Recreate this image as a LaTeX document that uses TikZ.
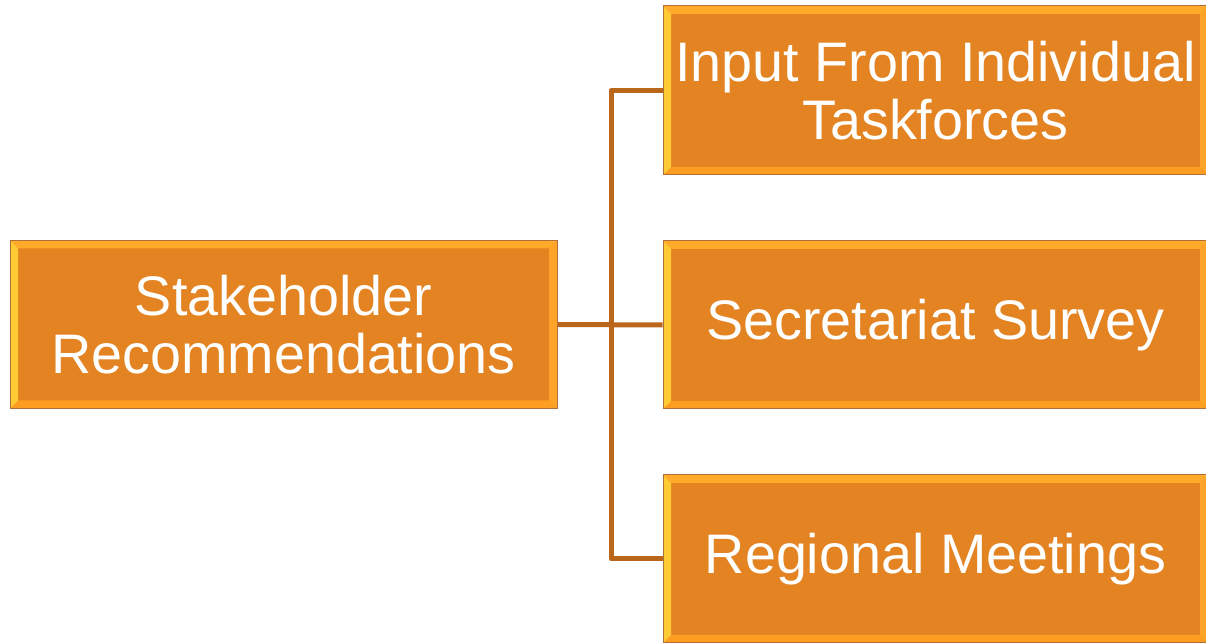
\documentclass[tikz,border=0pt]{standalone}
\usepackage{fontspec}
\setmainfont{Liberation Sans}
\usetikzlibrary{calc}
\definecolor{boxfill}{RGB}{227,131,34}
\definecolor{bevtop}{RGB}{255,170,42}
\definecolor{bevleft}{RGB}{255,203,52}
\definecolor{bevbottom}{RGB}{253,158,34}
\definecolor{bevright}{RGB}{255,164,40}
\definecolor{boxedge}{RGB}{176,112,60}
\definecolor{linkcol}{RGB}{187,103,27}
\tikzset{
  x=1pt,y=1pt,
  bevelbox/.style={
    fill=boxfill, draw=boxedge, line width=1pt, inner sep=0pt,
    text=white, align=center,
    font=\fontsize{55.7}{57.5}\selectfont,
    path picture={
      \coordinate (pnw) at (path picture bounding box.north west);
      \coordinate (pne) at (path picture bounding box.north east);
      \coordinate (psw) at (path picture bounding box.south west);
      \coordinate (pse) at (path picture bounding box.south east);
      \fill[bevtop] (pnw) -- (pne) -- ($(pne)+(-8,-8)$) -- ($(pnw)+(8,-8)$) -- cycle;
      \fill[bevbottom] (psw) -- (pse) -- ($(pse)+(-8,8)$) -- ($(psw)+(8,8)$) -- cycle;
      \fill[bevleft] (pnw) -- (psw) -- ($(psw)+(8,8)$) -- ($(pnw)+(8,-8)$) -- cycle;
      \fill[bevright] (pne) -- (pse) -- ($(pse)+(-8,8)$) -- ($(pne)+(-8,-8)$) -- cycle;
    }},
  link/.style={draw=linkcol, line width=5pt, line join=round}
}
\begin{document}
\begin{tikzpicture}
\useasboundingbox (0,0) rectangle (1206,644);
% y measured from top: y_tikz = 644 - y_px
\node[bevelbox, minimum width=547, minimum height=168] (src) at (283.5,319.5) {Stakeholder\\Recommendations};
\node[bevelbox, minimum width=545, minimum height=169] (a) at (935.5,553.5) {Input From Individual\\Taskforces};
\node[bevelbox, minimum width=545, minimum height=168] (b) at (935.5,319) {Secretariat Survey};
\node[bevelbox, minimum width=545, minimum height=168] (c) at (935.5,85) {Regional Meetings};
\coordinate (j) at (611,319);
\draw[link] (src.east) -- (b.west);
\draw[link] (a.west) -| (j) |- (c.west);
\end{tikzpicture}
\end{document}
